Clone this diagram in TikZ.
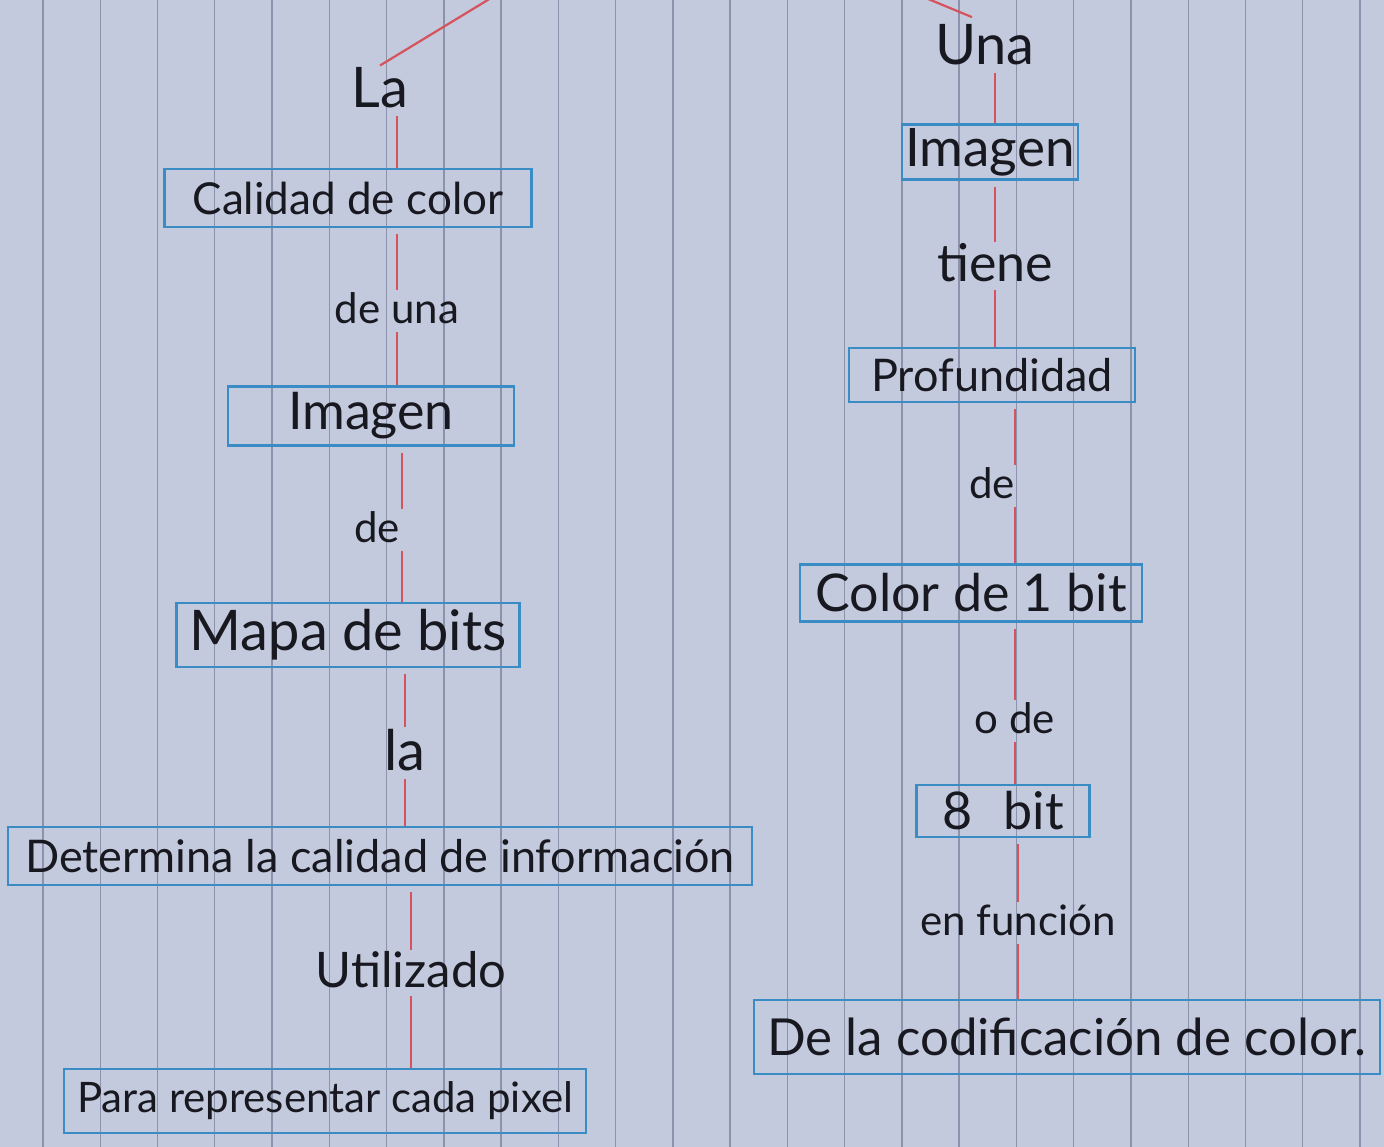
\documentclass[tikz,border=0pt]{standalone}
\usepackage{fontspec}
\setmainfont{Lato}
\definecolor{papel}{RGB}{196,202,221}
\definecolor{renglon}{RGB}{140,146,172}
\definecolor{azul}{RGB}{58,140,196}
\definecolor{rojo}{RGB}{214,82,92}
\definecolor{tinta}{RGB}{24,24,32}

\begin{document}
\begin{tikzpicture}[x=1pt,y=-1pt,
	concepto/.style={draw=azul, line width=2.5pt, inner sep=0pt, text=tinta,
		font=\fontsize{#1}{#1}\selectfont},
	concepto/.default=44,
	enlace/.style={inner sep=2pt, text=tinta, font=\fontsize{#1}{#1}\selectfont},
	enlace/.default=42,
	conector/.style={draw=rojo, line width=2.2pt, shorten <=6pt}]

		% paper
		\useasboundingbox (0,0) rectangle (1384,1147);
		\clip (0,0) rectangle (1384,1147);
		\fill[papel] (0,0) rectangle (1384,1147);
		\foreach \k in {0,...,23}
			\draw[renglon, line width=1.4pt] ({43+57.26*\k},0) -- ++(0,1147);

		%% left branch %%
		\node[enlace=56] (la) at (380,88) {La};
		\node[concepto=44, minimum width=367pt, minimum height=58pt] (calidad) at (348,198) {Calidad de color};
		\node[enlace] (deuna) at (397,308) {de una};
		\node[concepto=52, minimum width=286pt, minimum height=59pt] (imagenI) at (371,416) {Imagen};
		\node[enlace, anchor=east] (de1) at (402,527) {de};
		\node[concepto=56, minimum width=343pt, minimum height=64pt] (mapa) at (348,635) {Mapa de bits};
		\node[enlace=56] (la2) at (405,750) {la};
		\node[concepto=45, minimum width=744pt, minimum height=58pt] (determina) at (380,856) {Determina la calidad de información};
		\node[enlace=49] (utilizado) at (411,970) {Utilizado};
		\node[concepto=42, minimum width=522pt, minimum height=64pt] (para) at (325,1101) {Para representar cada pixel};

		%% right branch %%
		\node[enlace=56] (una) at (985,45) {Una};
		\node[concepto=53, minimum width=176pt, minimum height=55pt] (imagenD) at (990,152) {Imagen};
		\node[enlace=52] (tiene) at (995,263) {tiene};
		\node[concepto=45, minimum width=286pt, minimum height=54pt] (profundidad) at (992,375) {Profundidad};
		\node[enlace] (de2) at (992,483) {de};
		\node[concepto=52, minimum width=342pt, minimum height=57pt] (color1) at (971,593) {Color de 1 bit};
		\node[enlace] (ode) at (1015,718) {o de};
		\node[concepto=52, minimum width=173pt, minimum height=52pt] (ocho) at (1003,811) {8\hspace{0.6em}bit};
		\node[enlace] (enfuncion) at (1018,920) {en función};
		\node[concepto=51, minimum width=626pt, minimum height=74pt] (codificacion) at (1067,1037) {De la codificación de color.};

		% links from the title above the page
		\coordinate (raiz) at (667,-109);
		\draw[conector, shorten <=0pt] (raiz) -- (la.north);
		\draw[conector, shorten <=0pt, shorten >=14pt] (raiz) -- (una.north);

		% left links
		\draw[conector] (la.south -| calidad.north -| deuna) -- (deuna |- calidad.north);
		\draw[conector] (calidad.south -| deuna) -- (deuna);
		\draw[conector] (deuna) -- (deuna |- imagenI.north);
		\draw[conector] (imagenI.south -| de1.east) -- (de1.north east);
		\draw[conector] (de1.south east) -- (de1.east |- mapa.north);
		\draw[conector] (mapa.south -| la2) -- (la2);
		\draw[conector] (la2) -- (la2 |- determina.north);
		\draw[conector] (determina.south -| utilizado) -- (utilizado);
		\draw[conector] (utilizado) -- (utilizado |- para.north);

		% right links
		\draw[conector] (una.south -| imagenD.north -| tiene) -- (tiene |- imagenD.north);
		\draw[conector] (imagenD.south -| tiene) -- (tiene);
		\draw[conector] (tiene) -- (tiene |- profundidad.north);
		\draw[conector] (profundidad.south -| ode) -- (ode |- de2.north);
		\draw[conector] (ode |- de2.south) -- (ode |- color1.north);
		\draw[conector] (color1.south -| ode) -- (ode);
		\draw[conector] (ode) -- (ode |- ocho.north);
		\draw[conector] (ocho.south -| enfuncion) -- (enfuncion);
		\draw[conector] (enfuncion) -- (enfuncion |- codificacion.north);

\end{tikzpicture}
\end{document}
